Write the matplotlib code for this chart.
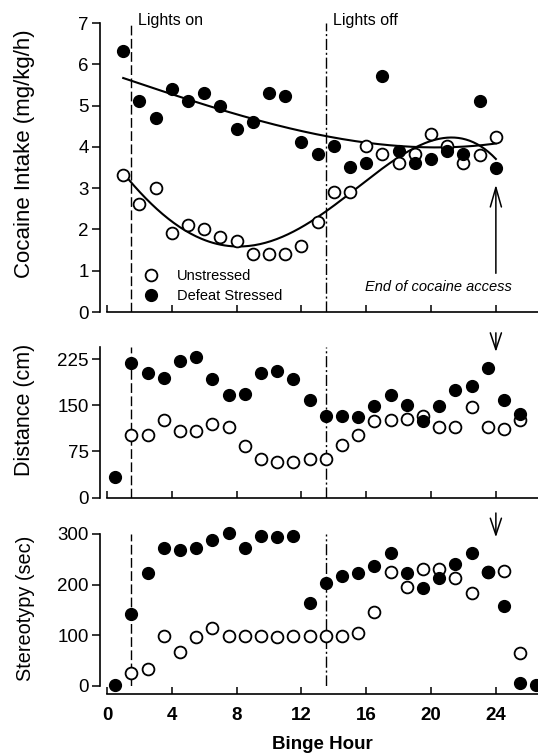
import numpy as np
import matplotlib
matplotlib.use('Agg')
import matplotlib.pyplot as plt

plt.rcParams['font.family'] = ['Liberation Sans', 'DejaVu Sans']

# --- data ---
hours_intake = np.arange(1, 25)
intake_unstressed = [3.31, 2.61, 3.01, 1.91, 2.11, 2.02, 1.82, 1.73, 1.40, 1.40, 1.40, 1.61,
                     2.19, 2.90, 2.90, 4.01, 3.82, 3.61, 3.82, 4.31, 4.01, 3.61, 3.81, 4.23]
intake_stressed = [6.31, 5.11, 4.71, 5.40, 5.11, 5.30, 5.00, 4.43, 4.60, 5.30, 5.22, 4.11,
                   3.83, 4.01, 3.51, 3.61, 5.71, 3.91, 3.61, 3.70, 3.89, 3.83, 5.11, 3.50]

hours_dist = np.arange(0.5, 26, 1.0)
dist_unstressed = [np.nan, 102, 102, 126, 108, 109, 119, 115, 84, 63, 58, 58, 62,
                   62, 86, 101, 124, 126, 128, 133, 114, 114, 147, 114, 112, 126]
dist_stressed = [33, 219, 202, 194, 221, 229, 193, 167, 168, 202, 205, 193, 159,
                 133, 132, 131, 148, 166, 151, 124, 148, 175, 182, 210, 158, 136]

hours_stereo = np.arange(0.5, 27, 1.0)
stereo_unstressed = [np.nan, 26, 34, 99, 67, 97, 115, 99, 99, 99, 96, 99, 99, 99,
                     99, 105, 145, 224, 196, 230, 230, 212, 184, 225, 227, 65, np.nan]
stereo_stressed = [1, 142, 222, 272, 268, 272, 289, 301, 273, 296, 295, 297, 163, 204,
                   217, 222, 237, 262, 222, 194, 212, 240, 262, 225, 158, 6, 1]

xticks = [0, 4, 8, 12, 16, 20, 24]
lights_on, lights_off, end_access = 1.5, 13.5, 24

W, H = 538, 754
fig = plt.figure(figsize=(W / 100, H / 100), dpi=100)

def make_ax(y0_px, y_top_px, ymax):
    ax = fig.add_axes([107 / W, (H - y0_px) / H, 431 / W, (y0_px - y_top_px) / H])
    ax.set_xlim(0, 26.6)
    ax.set_ylim(0, ymax)
    for s in ['top', 'right']:
        ax.spines[s].set_visible(False)
    ax.spines['left'].set_position(('outward', 5))
    ax.spines['left'].set_linewidth(1.2)
    ax.spines['bottom'].set_linewidth(1.2)
    ax.tick_params(axis='y', direction='out', length=6, width=1.1, pad=2, labelsize=13.5)
    ax.tick_params(axis='x', direction='in', length=5, width=1.1, labelsize=13.5, pad=9)
    ax.set_xticks(xticks)
    ax.axvline(lights_on, color='k', lw=1.0, ls=(0, (7, 2.5)))
    ax.axvline(lights_off, color='k', lw=1.0, ls=(0, (8, 2, 1.5, 2)))
    return ax

def scatter_pair(ax, x, unst, stre, label=False):
    ax.plot(x, unst, 'o', ms=8.5, mfc='white', mec='k', mew=1.3, ls='none',
            clip_on=False, zorder=3, label='Unstressed' if label else None)
    ax.plot(x, stre, 'o', ms=8.5, mfc='k', mec='k', ls='none',
            clip_on=False, zorder=4, label='Defeat Stressed' if label else None)

# top panel: cocaine intake
ax1 = make_ax(312, 23, 7)
scatter_pair(ax1, hours_intake, intake_unstressed, intake_stressed, label=True)
xs = np.linspace(1, 24, 200)
for vals, deg in [(intake_unstressed, 4), (intake_stressed, 3)]:
    coef = np.polyfit(hours_intake, vals, deg)
    ax1.plot(xs, np.polyval(coef, xs), color='k', lw=1.5, zorder=2)
ax1.set_yticks(range(8))
ax1.set_xticklabels([])
ax1.set_ylabel('Cocaine Intake (mg/kg/h)', fontsize=16)
ax1.yaxis.set_label_coords(-0.167, 0.547)
ax1.text(1.9, 7.05, 'Lights on', fontsize=11.5, va='center',
         family=['Liberation Sans Narrow', 'Liberation Sans'])
ax1.text(13.95, 7.05, 'Lights off', fontsize=11.5, va='center',
         family=['Liberation Sans Narrow', 'Liberation Sans'])
ax1.text(25.0, 0.61, 'End of cocaine access', fontsize=10.5, style='italic',
         ha='right', va='center')
ax1.annotate('', xy=(end_access, 3.15), xytext=(end_access, 0.87),
             arrowprops=dict(arrowstyle='->,head_length=0.7,head_width=0.2',
                             lw=1.1, color='k', mutation_scale=20))
ax1.legend(loc='lower left', bbox_to_anchor=(0.085, 0.03), frameon=False,
           fontsize=10.5, handlelength=1.0, handletextpad=1.3, borderpad=0,
           labelspacing=0.45, borderaxespad=0)

# middle panel: distance
ax2 = make_ax(497.7, 346.7, 245)
scatter_pair(ax2, hours_dist, dist_unstressed, dist_stressed)
ax2.set_yticks([0, 75, 150, 225])
ax2.set_xticklabels([])
ax2.set_ylabel('Distance (cm)', fontsize=15.5)
ax2.yaxis.set_label_coords(-0.167, 0.58)
ax2.annotate('', xy=(end_access, 232), xytext=(end_access, 272), annotation_clip=False,
             arrowprops=dict(arrowstyle='->,head_length=0.6,head_width=0.2',
                             lw=1.1, color='k', mutation_scale=20))

# bottom panel: stereotypy
ax3 = make_ax(685.7, 534, 300)
ax3.spines['bottom'].set_position(('outward', 6))
scatter_pair(ax3, hours_stereo, stereo_unstressed, stereo_stressed)
ax3.set_yticks([0, 100, 200, 300])
ax3.set_xticklabels([str(t) for t in xticks], fontweight='bold')
ax3.set_ylabel('Stereotypy (sec)', fontsize=14.3)
ax3.yaxis.set_label_coords(-0.167, 0.51)
ax3.set_xlabel('Binge Hour', fontsize=13.5, fontweight='bold', labelpad=9)
ax3.annotate('', xy=(end_access, 288), xytext=(end_access, 347), annotation_clip=False,
             arrowprops=dict(arrowstyle='->,head_length=0.6,head_width=0.2',
                             lw=1.1, color='k', mutation_scale=20))

fig.savefig('out.png', dpi=100)
